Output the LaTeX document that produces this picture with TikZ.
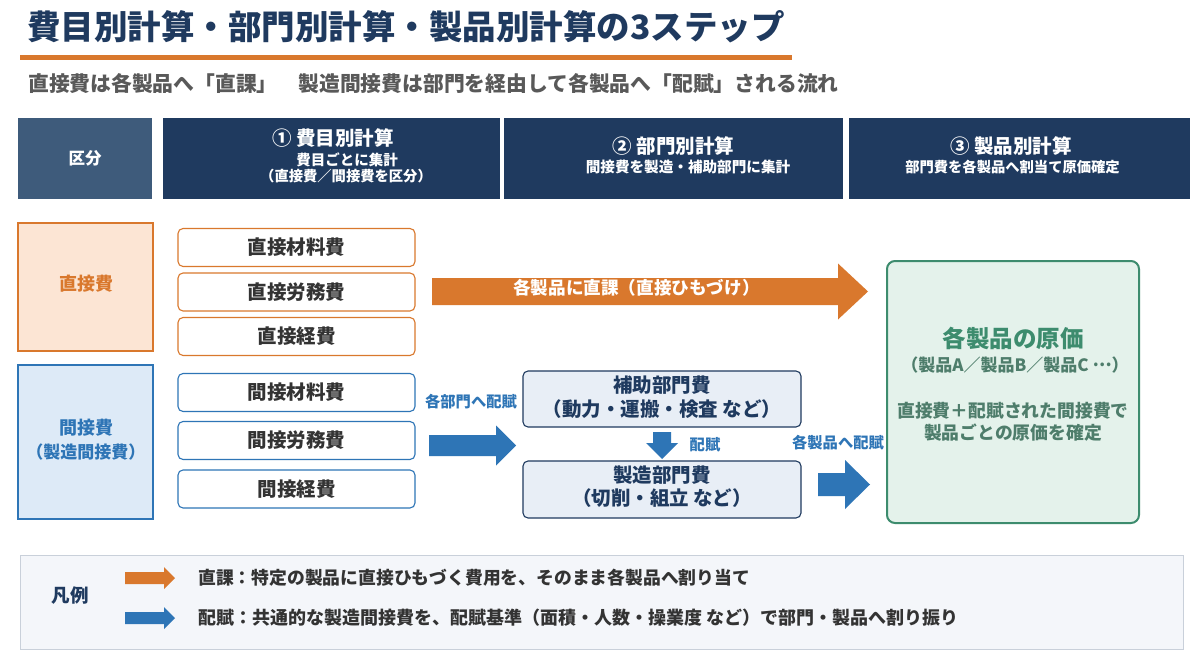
\documentclass[tikz,border=0pt]{standalone}
\usepackage{fontspec}
\setmainfont{Noto Sans CJK JP}
\definecolor{navy}{HTML}{1F3A5F}
\definecolor{kubunc}{HTML}{3E5B7B}
\definecolor{orng}{HTML}{D9782D}
\definecolor{peach}{HTML}{FCE5D4}
\definecolor{blu}{HTML}{2E75B6}
\definecolor{lblue}{HTML}{DDEAF7}
\definecolor{deptfill}{HTML}{E8EEF6}
\definecolor{grn}{HTML}{3D8C6E}
\definecolor{gfill}{HTML}{E4F2EB}
\definecolor{gtext}{HTML}{4E7D6B}
\definecolor{subgray}{HTML}{595959}
\definecolor{darktxt}{HTML}{333333}
\definecolor{legfill}{HTML}{F4F6FA}
\definecolor{legdraw}{HTML}{C9D0DA}
\newcommand\fsz[1]{\fontsize{#1}{#1}\selectfont\bfseries}
% right block arrow: x-start, x-head, x-tip, y-center, shaft half, head half, colour
\newcommand\rblock[7]{\fill[#7] (#1,#4-#5) -- (#2,#4-#5) -- (#2,#4-#6) -- (#3,#4) -- (#2,#4+#6) -- (#2,#4+#5) -- (#1,#4+#5) -- cycle;}
\begin{document}
\begin{tikzpicture}[x=1pt,y=-1pt,
  t/.style={inner sep=0pt},
  hbox/.style={fill=navy, draw=none, inner sep=0pt},
  item/.style={draw, fill=white, line width=1.1pt, rounded corners=5pt, minimum width=237, minimum height=38, inner sep=0pt, text=darktxt, font=\fsz{19.5}},
  dept/.style={draw=navy, fill=deptfill, line width=1.1pt, rounded corners=5pt, minimum width=278, inner sep=0pt}
]
\useasboundingbox (0,0) rectangle (1200,666);
\fill[white] (0,0) rectangle (1200,666);

% title
\node[t, anchor=west, text=navy, font=\fsz{33.5}] (title) at (27,27) {費目別計算・部門別計算・製品別計算の3ステップ};
\fill[orng] (20,55) rectangle (792,60);
\node[t, anchor=west, text=subgray, font=\fsz{20.8}] (subtitle) at (28,83.5) {直接費は各製品へ「直課」　製造間接費は部門を経由して各製品へ「配賦」される流れ};

% header row
\node[hbox, fill=kubunc, minimum width=134, minimum height=81] (kubun) at (85,158.5) {};
\node[t, text=white, font=\fsz{16.5}] (kubunt) at (kubun.center) {区分};
\node[hbox, minimum width=337, minimum height=81] (h1) at (331.5,158.5) {};
\node[hbox, minimum width=339, minimum height=81] (h2) at (673.5,158.5) {};
\node[hbox, minimum width=341, minimum height=81] (h3) at (1019.5,158.5) {};
\node[t, text=white, font=\fsz{19.5}] (h1a) at (333,138.5) {① 費目別計算};
\node[t, text=white, font=\fsz{14.5}] (h1b) at (347,160) {費目ごとに集計};
\node[t, text=white, font=\fsz{14.3}] (h1c) at (346,176.5) {（直接費／間接費を区分）};
\node[t, text=white, font=\fsz{19.5}] (h2a) at (673.5,146) {② 部門別計算};
\node[t, text=white, font=\fsz{14.6}] (h2b) at (688,167) {間接費を製造・補助部門に集計};
\node[t, text=white, font=\fsz{19.5}] (h3a) at (1011,146) {③ 製品別計算};
\node[t, text=white, font=\fsz{14.3}] (h3b) at (1012.5,167) {部門費を各製品へ割当て原価確定};

% category boxes
\node[draw=orng, fill=peach, line width=1.1pt, minimum width=135, minimum height=128, inner sep=0pt] (direct) at (85.5,287) {};
\node[t, text=orng, font=\fsz{18}] (directt) at (86,284) {直接費};
\node[draw=blu, fill=lblue, line width=1.1pt, minimum width=135, minimum height=154, inner sep=0pt] (indirect) at (85.5,442) {};
\node[t, text=blu, font=\fsz{18}] (indirectt) at (86,428) {間接費};
\node[t, text=blu, font=\fsz{17}] (indirectu) at (86,452) {（製造間接費）};

% cost items
\node[item, draw=orng] (d1) at (296.5,247.5) {直接材料費};
\node[item, draw=orng] (d2) at (296.5,292) {直接労務費};
\node[item, draw=orng] (d3) at (296.5,336.5) {直接経費};
\node[item, draw=blu] (i1) at (296.5,392.5) {間接材料費};
\node[item, draw=blu] (i2) at (296.5,440.5) {間接労務費};
\node[item, draw=blu] (i3) at (296.5,489) {間接経費};

% direct charge arrow
\rblock{432}{838}{868}{291.5}{13.5}{28}{orng}
\node[t, text=white, font=\fsz{17.6}] (directlbl) at (636.5,288) {各製品に直課（直接ひもづけ）};

% allocation to departments
\node[t, text=blu, font=\fsz{15.3}] (toDept) at (471,402) {各部門へ配賦};
\rblock{429}{496}{516}{445.5}{10.5}{20}{blu}

% department boxes
\node[dept, minimum height=56] (hojo) at (662,399) {};
\node[t, text=navy, font=\fsz{19.5}] (hojoa) at (662,385) {補助部門費};
\node[t, text=navy, font=\fsz{19.5}] (hojob) at (662,409) {（動力・運搬・検査 など）};
\node[dept, minimum height=57] (seizo) at (662,489.5) {};
\node[t, text=navy, font=\fsz{19.5}] (seizoa) at (662,475) {製造部門費};
\node[t, text=navy, font=\fsz{19.5}] (seizob) at (662,498) {（切削・組立 など）};

% down arrow
\fill[blu] (653,432) -- (671,432) -- (671,443) -- (678,443) -- (662,459) -- (646,443) -- (653,443) -- cycle;
\node[t, text=blu, font=\fsz{15.3}] (downlbl) at (705,445) {配賦};

% allocation to products
\node[t, text=blu, font=\fsz{15.3}] (toProd) at (838,443) {各製品へ配賦};
\rblock{818}{845}{870}{484.5}{11.5}{24.5}{blu}

% product cost box
\node[draw=grn, fill=gfill, line width=2pt, rounded corners=8pt, minimum width=252, minimum height=262, inner sep=0pt] (prod) at (1013,392) {};
\node[t, text=grn, font=\fsz{23.5}] (proda) at (1013,338) {各製品の原価};
\node[t, text=gtext, font=\fsz{17}] (prodb) at (1015,365) {（製品A／製品B／製品C \raisebox{0.3em}{…}）};
\node[t, text=gtext, font=\fsz{17.8}] (prodc) at (1013,411) {直接費＋配賦された間接費で};
\node[t, text=gtext, font=\fsz{17.8}] (prodd) at (1013,433) {製品ごとの原価を確定};

% legend
\node[draw=legdraw, fill=legfill, line width=1pt, minimum width=1163, minimum height=94, inner sep=0pt] (legend) at (601.5,602) {};
\node[t, text=navy, font=\fsz{18.5}] (legt) at (70,596) {凡例};
\rblock{125}{164}{175}{578}{6}{11}{orng}
\node[t, anchor=west, text=darktxt, font=\fsz{17.8}] (leg1) at (198,578) {直課：特定の製品に直接ひもづく費用を、そのまま各製品へ割り当て};
\rblock{125}{164}{175}{618}{6}{11}{blu}
\node[t, anchor=west, text=darktxt, font=\fsz{18}] (leg2) at (198,618) {配賦：共通的な製造間接費を、配賦基準（面積・人数・操業度 など）で部門・製品へ割り振り};
\end{tikzpicture}
\end{document}
